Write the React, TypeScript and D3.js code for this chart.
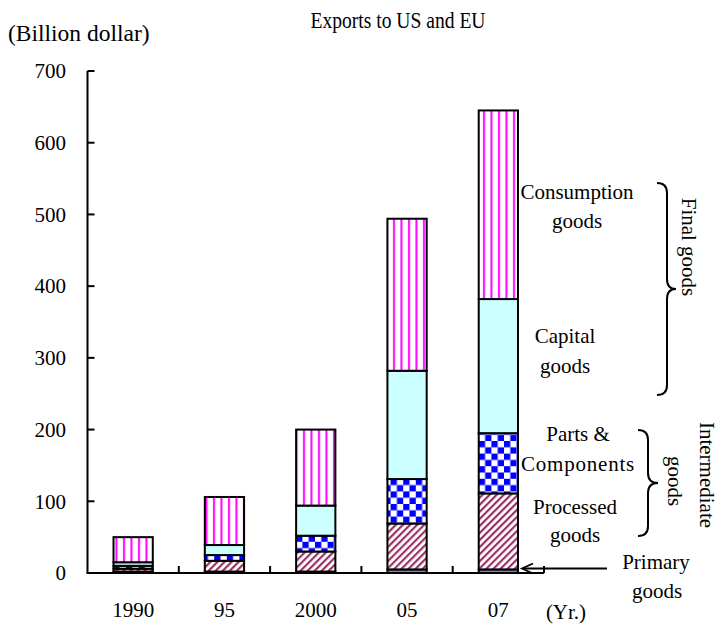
import React from "react";
import * as d3 from "d3";

const categories = ["1990", "95", "2000", "05", "07"];
const primary = [2, 2, 2, 5, 5];
const processed = [4, 15, 28, 64, 106];
const parts = [4, 8, 22, 62, 84];
const capital = [5, 14, 42, 151, 187];
const consumption = [35, 67, 106, 212, 263];
const yTicks = [0, 100, 200, 300, 400, 500, 600, 700];

const keys = ["primary", "processed", "parts", "capital", "consumption"];
const fills: Record<string, string> = {
  primary: "#7b7bd9",
  processed: "url(#pStripe)",
  parts: "url(#pCheck)",
  capital: "#ccffff",
  consumption: "url(#pVert)",
};

const W = 721;
const H = 628;
const FONT = "Liberation Serif";

export default function App() {
  const rows = categories.map((c, i) => ({
    cat: c,
    primary: primary[i],
    processed: processed[i],
    parts: parts[i],
    capital: capital[i],
    consumption: consumption[i],
  }));
  const series = d3.stack<any>().keys(keys)(rows);

  const x = d3
    .scaleBand<string>()
    .domain(categories)
    .range([87.5, 544])
    .paddingInner(0.57)
    .paddingOuter(0.285);
  const y = d3.scaleLinear().domain([0, 700]).range([573, 71]);
  const step = x.step();
  const x0 = 87.5;

  const brace = (xl: number, xs: number, xt: number, yt: number, yb: number, r: number) => {
    const ym = (yt + yb) / 2;
    return `M${xl},${yt} Q${xs},${yt} ${xs},${yt + r} L${xs},${ym - r} Q${xs},${ym} ${xt},${ym} Q${xs},${ym} ${xs},${ym + r} L${xs},${yb - r} Q${xs},${yb} ${xl},${yb}`;
  };

  const fs = 21;

  return (
    <svg
      width={W}
      height={H}
      fontFamily={FONT}
      fontSize={fs}
      style={{ position: "absolute", left: 0, top: 0, background: "#fff" }}
    >
      <defs>
        <pattern id="pStripe" patternUnits="userSpaceOnUse" width="5" height="5" patternTransform="rotate(45)">
          <rect width="5" height="5" fill="#fff" />
          <rect x="0" y="0" width="2.2" height="5" fill="#993366" />
        </pattern>
        <pattern id="pCheck" patternUnits="userSpaceOnUse" width="12.6" height="12.6">
          <rect width="12.6" height="12.6" fill="#fff" />
          <rect x="0" y="0" width="6.3" height="6.3" fill="#0000ff" />
          <rect x="6.3" y="6.3" width="6.3" height="6.3" fill="#0000ff" />
        </pattern>
        <pattern id="pVert" patternUnits="userSpaceOnUse" width="7.5" height="10" x="1">
          <rect width="7.5" height="10" fill="#fff" />
          <rect x="2" y="0" width="2" height="10" fill="#ff00ff" />
        </pattern>
      </defs>

      {/* bars */}
      {series.map((s) => (
        <g key={s.key}>
          {s.map((d: any, i: number) => (
            <rect
              key={i}
              x={x(categories[i])!}
              y={y(d[1])}
              width={x.bandwidth()}
              height={y(d[0]) - y(d[1])}
              fill={fills[s.key]}
              stroke="#000"
              strokeWidth={2}
            />
          ))}
        </g>
      ))}

      {/* axes */}
      <line x1={x0} x2={x0} y1={y(700)} y2={y(0)} stroke="#000" strokeWidth={2} />
      <line x1={x0 - 1} x2={544} y1={y(0)} y2={y(0)} stroke="#000" strokeWidth={2} />
      {yTicks.map((t) => (
        <g key={t}>
          <line x1={x0} x2={x0 + 7} y1={y(t)} y2={y(t)} stroke="#000" strokeWidth={2} />
          <text x={66} y={y(t)} dy="0.35em" textAnchor="end">
            {t}
          </text>
        </g>
      ))}
      {categories.map((c, i) => (
        <g key={c}>
          <line
            x1={x0 + step * (i + 1)}
            x2={x0 + step * (i + 1)}
            y1={y(0)}
            y2={y(0) - 7}
            stroke="#000"
            strokeWidth={2}
          />
          <text x={x(c)! + x.bandwidth() / 2} y={610} dy="0.35em" textAnchor="middle">
            {c}
          </text>
        </g>
      ))}
      <text x={566} y={612} dy="0.35em" textAnchor="middle">
        (Yr.)
      </text>

      {/* titles */}
      <text x={8} y={33} dy="0.35em" fontSize={23.5}>
        (Billion dollar)
      </text>
      <text transform="translate(398,20) scale(0.87,1)" dy="0.35em" textAnchor="middle" fontSize={22.5}>
        Exports to US and EU
      </text>

      {/* annotations */}
      <text x={577} y={192} dy="0.35em" textAnchor="middle">Consumption</text>
      <text x={577} y={221} dy="0.35em" textAnchor="middle">goods</text>
      <text x={565} y={336} dy="0.35em" textAnchor="middle">Capital</text>
      <text x={565} y={366} dy="0.35em" textAnchor="middle">goods</text>
      <text x={578} y={434} dy="0.35em" textAnchor="middle">Parts &amp;</text>
      <text x={578} y={464} dy="0.35em" textAnchor="middle" letterSpacing={0.8}>Components</text>
      <text x={575} y={507} dy="0.35em" textAnchor="middle">Processed</text>
      <text x={575} y={535} dy="0.35em" textAnchor="middle">goods</text>
      <text x={656} y={562} dy="0.35em" textAnchor="middle">Primary</text>
      <text x={657} y={591} dy="0.35em" textAnchor="middle">goods</text>

      {/* primary arrow */}
      <line x1={607} x2={524} y1={568.5} y2={568.5} stroke="#000" strokeWidth={2} />
      <path d="M533,563.5 L522,568.5 L533,573.5" fill="none" stroke="#000" strokeWidth={1.8} />

      {/* braces */}
      <path d={brace(657, 667, 676, 183, 395, 10)} fill="none" stroke="#000" strokeWidth={2} />
      <path d={brace(638, 648, 658, 430, 536, 10)} fill="none" stroke="#000" strokeWidth={2} />
      <text transform="translate(689,247) rotate(90)" dy="0.35em" textAnchor="middle">
        Final goods
      </text>
      <text transform="translate(675,481) rotate(90)" dy="0.35em" textAnchor="middle">
        goods
      </text>
      <text transform="translate(707,475) rotate(90)" dy="0.35em" textAnchor="middle">
        Intermediate
      </text>
    </svg>
  );
}
